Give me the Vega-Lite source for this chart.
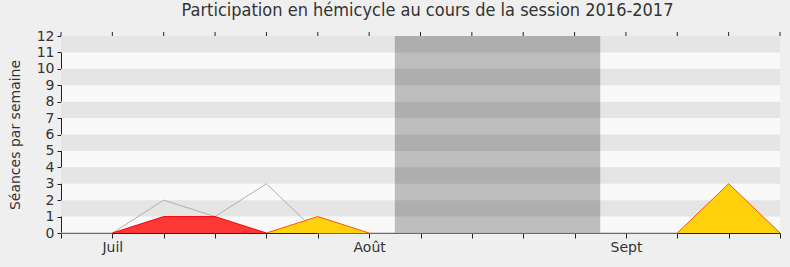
{
  "$schema": "https://vega.github.io/schema/vega-lite/v6.json",
  "width": 719,
  "height": 197,
  "autosize": {"type": "none"},
  "padding": {"left": 61, "top": 36, "right": 10, "bottom": 34},
  "background": "#efefef",
  "title": {
    "text": "Participation en hémicycle au cours de la session 2016-2017",
    "font": "DejaVu Sans Condensed",
    "fontSize": 18,
    "fontWeight": "normal",
    "color": "#333333",
    "anchor": "middle",
    "dx": 7,
    "offset": 9
  },
  "config": {
    "view": {"fill": "#f9f9f9", "stroke": null},
    "axis": {
      "labelFont": "DejaVu Sans",
      "titleFont": "DejaVu Sans",
      "labelFontSize": 14,
      "titleFontSize": 14,
      "labelColor": "#333333",
      "titleColor": "#333333",
      "titleFontWeight": "normal",
      "labelOverlap": false,
      "grid": false,
      "domainColor": "#222222",
      "tickColor": "#222222"
    }
  },
  "datasets": {
    "stripes": [
      {"lo": 1, "hi": 2}, {"lo": 3, "hi": 4}, {"lo": 5, "hi": 6},
      {"lo": 7, "hi": 8}, {"lo": 9, "hi": 10}, {"lo": 11, "hi": 12}
    ],
    "vacances": [{"start": 6.5, "end": 10.5}],
    "moyenne": [
      {"week": 0, "value": 0}, {"week": 1, "value": 0}, {"week": 2, "value": 2},
      {"week": 3, "value": 1}, {"week": 4, "value": 3}, {"week": 5, "value": 0},
      {"week": 6, "value": 0}, {"week": 7, "value": 0}, {"week": 8, "value": 0},
      {"week": 9, "value": 0}, {"week": 10, "value": 0}, {"week": 11, "value": 0},
      {"week": 12, "value": 0}, {"week": 13, "value": 2}, {"week": 14, "value": 0}
    ],
    "presence": [
      {"week": 1, "value": 0}, {"week": 2, "value": 1},
      {"week": 3, "value": 1}, {"week": 4, "value": 0}
    ],
    "mentions": [
      {"week": 4, "value": 0, "seg": "a"}, {"week": 5, "value": 1, "seg": "a"},
      {"week": 6, "value": 0, "seg": "a"},
      {"week": 12, "value": 0, "seg": "b"}, {"week": 13, "value": 3, "seg": "b"},
      {"week": 14, "value": 0, "seg": "b"}
    ]
  },
  "layer": [
    {
      "data": {"name": "stripes"},
      "mark": {"type": "rect", "color": "#e5e5e5"},
      "encoding": {
        "y": {
          "field": "lo", "type": "quantitative",
          "scale": {"domain": [0, 12], "nice": false},
          "axis": {
            "title": "Séances par semaine",
            "values": [0, 1, 2, 3, 4, 5, 6, 7, 8, 9, 10, 11, 12],
            "tickCount": 13,
            "labelOverlap": false,
            "tickSize": 4, "labelPadding": 3, "titlePadding": 14
          }
        },
        "y2": {"field": "hi"}
      }
    },
    {
      "data": {"name": "vacances"},
      "mark": {"type": "rect", "color": "#000000", "opacity": 0.24},
      "encoding": {
        "x": {
          "field": "start", "type": "quantitative",
          "scale": {"domain": [0, 14], "nice": false},
          "axis": {
            "orient": "bottom", "title": null,
            "values": [0, 1, 2, 3, 4, 5, 6, 7, 8, 9, 10, 11, 12, 13, 14],
            "labelExpr": "datum.value == 1 ? 'Juil' : datum.value == 6 ? 'Août' : datum.value == 11 ? 'Sept' : ''",
            "tickSize": 5, "labelPadding": 2
          }
        },
        "x2": {"field": "end"}
      }
    },
    {
      "data": {"name": "moyenne"},
      "mark": {"type": "rule", "color": "#222222", "strokeWidth": 1},
      "encoding": {
        "x": {"field": "week", "type": "quantitative"},
        "y": {"datum": 12, "type": "quantitative"},
        "y2": {"datum": 12.24}
      }
    },
    {
      "data": {"name": "moyenne"},
      "mark": {"type": "line", "color": "#b0b0b0", "strokeWidth": 1},
      "encoding": {
        "x": {"field": "week", "type": "quantitative"},
        "y": {"field": "value", "type": "quantitative"}
      }
    },
    {
      "data": {"name": "presence"},
      "mark": {"type": "area", "color": "#ff0000", "opacity": 0.78, "line": {"color": "#ff0000", "strokeWidth": 1, "opacity": 1}},
      "encoding": {
        "x": {"field": "week", "type": "quantitative"},
        "y": {"field": "value", "type": "quantitative", "stack": null}
      }
    },
    {
      "data": {"name": "mentions"},
      "mark": {"type": "area", "color": "#ffd000", "opacity": 0.95, "line": {"color": "#ff5500", "strokeWidth": 1, "opacity": 1}},
      "encoding": {
        "x": {"field": "week", "type": "quantitative"},
        "y": {"field": "value", "type": "quantitative", "stack": null},
        "detail": {"field": "seg", "type": "nominal"}
      }
    }
  ]
}
